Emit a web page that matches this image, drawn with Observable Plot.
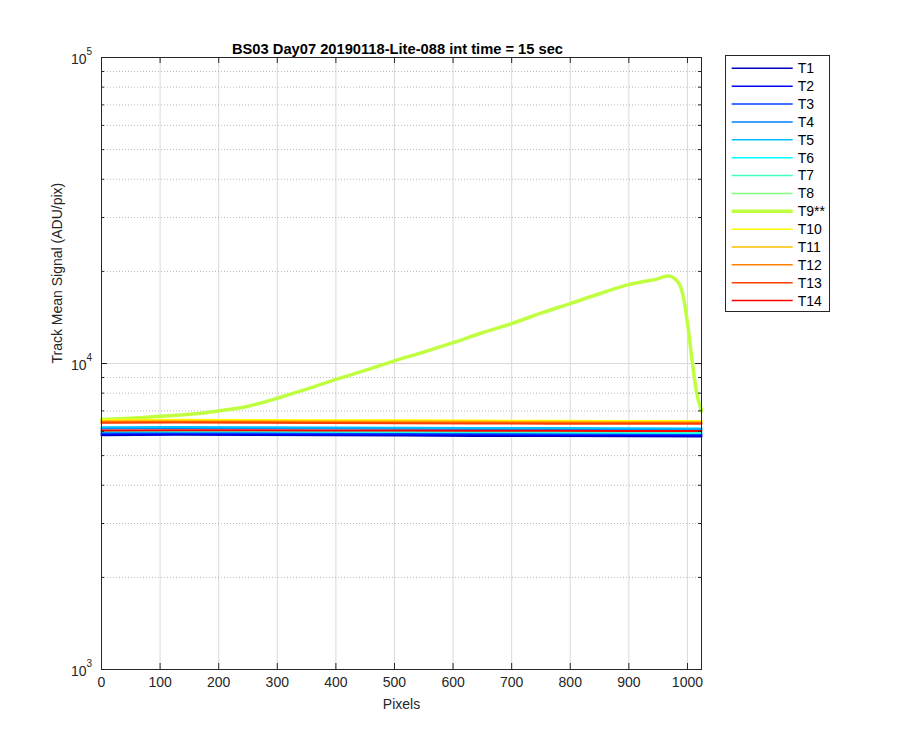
<!DOCTYPE html>
<html><head><meta charset="utf-8">
<script src="https://cdn.jsdelivr.net/npm/d3@7"></script>
<script src="https://cdn.jsdelivr.net/npm/@observablehq/plot@0.6"></script>
<style>
body{margin:0;background:#fff;}
#wrap{position:relative;width:900px;height:750px;font-family:"Liberation Sans",Arial,sans-serif;}
#legend{position:absolute;left:725px;top:55px;}
</style></head><body><div id="wrap"></div>
<script>
const title = "BS03 Day07 20190118-Lite-088 int time = 15 sec";
const xLabel = "Pixels";
const yLabel = "Track Mean Signal (ADU/pix)";
const seriesNames = ["T1","T2","T3","T4","T5","T6","T7","T8","T9","T10","T11","T12","T13","T14"];
const seriesLabels = ["T1","T2","T3","T4","T5","T6","T7","T8","T9**","T10","T11","T12","T13","T14"];
const seriesColors = ["#0000bf","#0000ff","#0040ff","#0080ff","#00bfff","#00ffff","#40ffbf","#80ff80","#bfff40","#ffff00","#ffbf00","#ff8000","#ff4000","#ff0000"];
const highlighted = "T9";

const flatPixels = [0, 128, 256, 384, 512, 640, 768, 896, 1024];
const T1  = [5830, 5850, 5840, 5830, 5820, 5800, 5790, 5780, 5770];
const T2  = [5880, 5890, 5880, 5870, 5860, 5850, 5840, 5830, 5820];
const T3  = [5930, 5940, 5930, 5920, 5910, 5900, 5890, 5880, 5870];
const T4  = [6130, 6150, 6140, 6130, 6120, 6110, 6100, 6090, 6080];
const T5  = [6190, 6200, 6190, 6180, 6170, 6160, 6150, 6140, 6130];
const T6  = [5990, 6000, 5990, 5980, 5970, 5960, 5950, 5940, 5930];
const T7  = [6020, 6030, 6020, 6010, 6000, 5990, 5980, 5970, 5960];
const T8  = [6500, 6510, 6500, 6490, 6480, 6470, 6460, 6450, 6450];
const T10 = [6540, 6550, 6540, 6530, 6520, 6510, 6500, 6490, 6490];
const T11 = [6490, 6500, 6490, 6480, 6470, 6460, 6450, 6440, 6440];
const T12 = [6430, 6440, 6440, 6430, 6420, 6410, 6400, 6390, 6390];
const T13 = [6400, 6410, 6400, 6390, 6380, 6370, 6360, 6350, 6350];
const T14 = [6040, 6050, 6050, 6040, 6040, 6030, 6030, 6020, 6020];

const t9Pixels = [0, 50, 100, 150, 200, 250, 300, 350, 400, 450, 500, 550, 600, 650, 700, 750, 800, 850, 900, 921, 944, 967, 984, 993, 1001, 1008, 1015, 1024];
const t9Values = [6560, 6620, 6720, 6820, 7000, 7250, 7700, 8250, 8870, 9500, 10200, 10900, 11700, 12600, 13500, 14600, 15700, 16900, 18100, 18460, 18800, 19300, 18460, 16500, 13140, 10230, 8170, 7000];

const xTicks = [0, 100, 200, 300, 400, 500, 600, 700, 800, 900, 1000];
const yMajorTicks = [1e3, 1e4, 1e5];
const yMinorTicks = [2e3, 3e3, 4e3, 5e3, 6e3, 7e3, 8e3, 9e3, 2e4, 3e4, 4e4, 5e4, 6e4, 7e4, 8e4, 9e4];

const flatSeries = {T1, T2, T3, T4, T5, T6, T7, T8, T10, T11, T12, T13, T14};

const W = 900, H = 750, mL = 101, mR = 199, mT = 57, mB = 81;
const xDomain = [0, 1024], yDomain = [1e3, 1e5];
const plotW = W - mL - mR, plotH = H - mT - mB;
const xPerPx = (xDomain[1] - xDomain[0]) / plotW;
const decPerPx = Math.log10(yDomain[1] / yDomain[0]) / plotH;
const majX = 6 * xPerPx, minX = 3 * xPerPx;
const tickYb = yDomain[0] * Math.pow(10, 6 * decPerPx);
const tickYt = yDomain[1] / Math.pow(10, 6 * decPerPx);

const axisColor = "#262626";
const fs = 14;
const lineMarks = seriesNames.map((name, i) => {
  const rows = name === highlighted
    ? t9Pixels.map((p, j) => ({pixel: p, value: t9Values[j]}))
    : flatPixels.map((p, j) => ({pixel: p, value: flatSeries[name][j]}));
  return Plot.line(rows, {
    x: "pixel", y: "value",
    stroke: seriesColors[i],
    strokeWidth: name === highlighted ? 3.5 : 2,
    curve: name === highlighted ? "monotone-x" : "linear"
  });
});

const chart = Plot.plot({
  width: W, height: H,
  marginLeft: mL, marginRight: mR, marginTop: mT, marginBottom: mB,
  x: {domain: xDomain, axis: null},
  y: {type: "log", domain: yDomain, axis: null},
  style: {fontFamily: "'Liberation Sans', Arial, sans-serif", fontSize: fs + "px", background: "white", overflow: "visible"},
  marks: [
    Plot.ruleX(xTicks.filter(d => d > xDomain[0] && d < xDomain[1]), {stroke: "#dadada", strokeWidth: 1}),
    Plot.ruleY([1e4], {stroke: "#dadada", strokeWidth: 1}),
    Plot.ruleY(yMinorTicks, {stroke: "#b8b8b8", strokeWidth: 1, strokeDasharray: "1,2"}),
    ...lineMarks,
    Plot.ruleY(yMajorTicks, {x1: xDomain[0], x2: xDomain[0] + majX, stroke: axisColor}),
    Plot.ruleY(yMajorTicks, {x1: xDomain[1] - majX, x2: xDomain[1], stroke: axisColor}),
    Plot.ruleY(yMinorTicks, {x1: xDomain[0], x2: xDomain[0] + minX, stroke: axisColor}),
    Plot.ruleY(yMinorTicks, {x1: xDomain[1] - minX, x2: xDomain[1], stroke: axisColor}),
    Plot.ruleX(xTicks, {y1: yDomain[0], y2: tickYb, stroke: axisColor}),
    Plot.ruleX(xTicks, {y1: tickYt, y2: yDomain[1], stroke: axisColor}),
    Plot.frame({stroke: axisColor, strokeWidth: 1}),
    Plot.text(xTicks, {x: d => d, frameAnchor: "bottom", dy: 17, text: d => String(d), fill: axisColor, fontSize: fs}),
    Plot.text(yMajorTicks, {y: d => d, frameAnchor: "left", dx: -15, dy: 2, text: () => "10", textAnchor: "end", fill: axisColor, fontSize: fs}),
    Plot.text(yMajorTicks, {y: d => d, frameAnchor: "left", dx: -15, dy: -6, text: d => String(Math.round(Math.log10(d))), textAnchor: "start", fontSize: 10, fill: axisColor}),
    Plot.text([xLabel], {frameAnchor: "bottom", dy: 39, text: d => d, fill: axisColor, fontSize: fs}),
    Plot.text([yLabel], {frameAnchor: "left", dx: -44, rotate: -90, text: d => d, fill: axisColor, fontSize: fs}),
    Plot.text([title], {frameAnchor: "top", dx: -4, dy: -14, text: d => d, fontWeight: "bold", fill: "#000", fontSize: 14.7})
  ]
});
document.getElementById("wrap").appendChild(chart);

const lg = d3.select("#wrap").append("svg").attr("id", "legend").attr("width", 106).attr("height", 258);
lg.append("rect").attr("x", 0.5).attr("y", 0.5).attr("width", 104).attr("height", 256)
  .attr("fill", "white").attr("stroke", axisColor).attr("stroke-width", 1);
seriesNames.forEach((name, i) => {
  const y = 13.3 + i * 17.87;
  lg.append("line").attr("x1", 6.7).attr("x2", 67.7).attr("y1", y).attr("y2", y)
    .attr("stroke", seriesColors[i]).attr("stroke-width", name === highlighted ? 3.5 : 1.5);
  lg.append("text").attr("x", 72.7).attr("y", y).attr("dy", "0.35em")
    .attr("font-family", "'Liberation Sans', Arial, sans-serif").attr("font-size", "14px")
    .attr("fill", "#000").text(seriesLabels[i]);
});
</script></body></html>
